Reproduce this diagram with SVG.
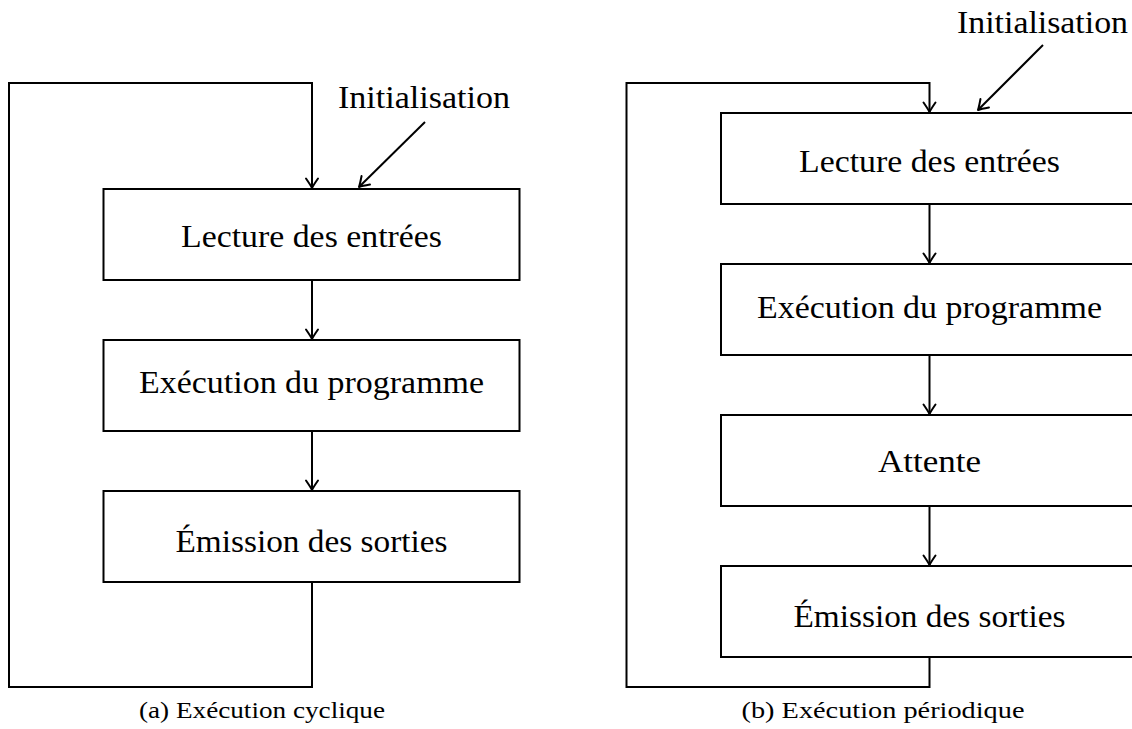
<svg xmlns="http://www.w3.org/2000/svg" width="1132" height="729" viewBox="0 0 1132 729">
<defs>
<style>
.box{fill:#fff;stroke:#000;stroke-width:2}
.ln{fill:none;stroke:#000;stroke-width:2;marker-end:url(#arr)}
.t{font-family:"Liberation Serif","Times New Roman",serif;font-size:32px;fill:#000;text-anchor:middle}
.c{font-family:"Liberation Serif","Times New Roman",serif;font-size:23px;fill:#000;text-anchor:middle}
</style>
<marker id="arr" markerUnits="userSpaceOnUse" viewBox="-12 -7 14 14" markerWidth="14" markerHeight="14" refX="0" refY="0" orient="auto" overflow="visible">
<path d="M-9.5,-6 Q-3,-1.5 0,0 Q-3,1.5 -9.5,6" fill="none" stroke="#000" stroke-width="2" stroke-linecap="round" stroke-linejoin="round"/>
</marker>
</defs>
<rect width="1132" height="729" fill="#fff"/>

<g id="connectors">
<path class="ln" d="M312,582 V687 H9 V83 H312 V188"/>
<path class="ln" d="M312,280 V339"/>
<path class="ln" d="M312,431 V490"/>
<path class="ln" d="M425,122 L359,187"/>
<path class="ln" d="M929.5,657 V687 H626.5 V83 H929.5 V112"/>
<path class="ln" d="M929.5,204 V263"/>
<path class="ln" d="M929.5,355 V414"/>
<path class="ln" d="M929.5,506 V565"/>
<path class="ln" d="M1043,45 L978,110"/>
</g>

<g id="a-lecture">
<rect class="box" x="103.5" y="189" width="416" height="91"/>
<text class="t" x="311.5" y="247" textLength="261" lengthAdjust="spacingAndGlyphs">Lecture des entrées</text>
</g>
<g id="a-execution">
<rect class="box" x="103.5" y="340" width="416" height="91"/>
<text class="t" x="311.5" y="393" textLength="345" lengthAdjust="spacingAndGlyphs">Exécution du programme</text>
</g>
<g id="a-emission">
<rect class="box" x="103.5" y="491" width="416" height="91"/>
<text class="t" x="311.5" y="551.5" textLength="272" lengthAdjust="spacingAndGlyphs">Émission des sorties</text>
</g>
<g id="a-init">
<text class="t" x="424" y="108" textLength="172" lengthAdjust="spacingAndGlyphs">Initialisation</text>
</g>
<g id="a-caption">
<text class="c" x="262" y="718" textLength="246" lengthAdjust="spacingAndGlyphs">(a) Exécution cyclique</text>
</g>

<g id="b-lecture">
<rect class="box" x="721" y="113" width="417" height="91"/>
<text class="t" x="929.5" y="171.5" textLength="261" lengthAdjust="spacingAndGlyphs">Lecture des entrées</text>
</g>
<g id="b-execution">
<rect class="box" x="721" y="264" width="417" height="91"/>
<text class="t" x="929.5" y="318" textLength="345" lengthAdjust="spacingAndGlyphs">Exécution du programme</text>
</g>
<g id="b-attente">
<rect class="box" x="721" y="415" width="417" height="91"/>
<text class="t" x="929.5" y="472" textLength="103" lengthAdjust="spacingAndGlyphs">Attente</text>
</g>
<g id="b-emission">
<rect class="box" x="721" y="566" width="417" height="91"/>
<text class="t" x="929.5" y="627" textLength="272" lengthAdjust="spacingAndGlyphs">Émission des sorties</text>
</g>
<g id="b-init">
<text class="t" x="1042.5" y="33" textLength="171" lengthAdjust="spacingAndGlyphs">Initialisation</text>
</g>
<g id="b-caption">
<text class="c" x="883" y="718" textLength="283" lengthAdjust="spacingAndGlyphs">(b) Exécution périodique</text>
</g>
</svg>
